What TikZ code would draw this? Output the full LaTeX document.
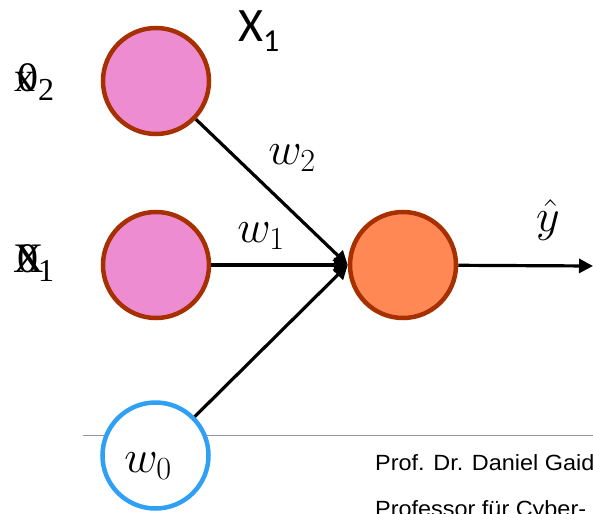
\RequirePackage{fix-cm}
\documentclass[tikz,border=0pt]{standalone}
\usepackage{fontspec}
\newfontfamily\arialfont{Liberation Sans}
\newfontfamily\califont{Carlito}
\newfontfamily\serifont{Liberation Serif}
\usetikzlibrary{arrows.meta}
\definecolor{pinkfill}{RGB}{238,140,210}
\definecolor{rimred}{RGB}{166,48,0}
\definecolor{orangefill}{RGB}{255,136,85}
\definecolor{biasblue}{RGB}{48,160,245}
\definecolor{rulegray}{RGB}{150,150,150}
\tikzset{
  neuron/.style={circle, draw=rimred, line width=4.5pt, minimum size=106pt, inner sep=0pt},
  biasnode/.style={circle, draw=biasblue, fill=white, line width=4.5pt, minimum size=106pt, inner sep=0pt},
  conn/.style={draw=black, line width=3.2pt, -{Triangle[length=14pt,width=14pt]}},
  wlabel/.style={inner sep=0pt, font=\fontsize{46}{50}\selectfont},
  inlabel/.style={inner sep=0pt, anchor=base west, font=\serifont\fontsize{42}{46}\selectfont},
  footer/.style={inner sep=0pt, anchor=base west, font=\arialfont\fontsize{22}{26}\selectfont, xscale=1.065, transform shape},
  rulestyle/.style={draw=rulegray, line width=1pt}
}
\begin{document}
\begin{tikzpicture}[x=1pt,y=-1pt]
\useasboundingbox (0,0) rectangle (593,513);
\clip (0,0) rectangle (593,513);
\coordinate (ruleL) at (83,435);
\coordinate (ruleR) at (593,435);
\draw[rulestyle] (ruleL) -- (ruleR);
\node[neuron, fill=pinkfill] (x2) at (156,81) {};
\node[neuron, fill=pinkfill] (x1) at (156,265) {};
\node[biasnode] (b) at (155.5,455.5) {};
\node[wlabel] (w0) at (148,466) {$w_0$};
\node[neuron, fill=orangefill] (out) at (403,265) {};
\coordinate (yend) at (593,266);
\draw[conn] (x2) -- (out.west);
\draw[conn] (x1) -- (out.west);
\draw[conn] (b) -- (out.west);
\draw[conn] (out) -- (yend);
\node[wlabel] (w2) at (292,158) {$w_2$};
\node[wlabel] (w1) at (261,236) {$w_1$};
\node[wlabel] (yhat) at (548,220) {$\hat{y}$};
\node[inner sep=0pt, anchor=base west, font=\califont\fontsize{48}{52}\selectfont] (X1) at (238,42) {X\raisebox{-10pt}{\fontsize{32}{36}\selectfont 1}};
\node[inlabel] (xa) at (14,92) {x};
\node[inlabel] (za) at (17,92) {0\raisebox{-9pt}{\fontsize{32}{36}\selectfont 2}};
\node[inlabel] (xb) at (13,272) {X};
\node[inlabel] (zb) at (17,272) {0\raisebox{-9pt}{\fontsize{32}{36}\selectfont 1}};
\node[footer] (f1) at (375,470) {Prof. Dr. Daniel Gaid};
\node[footer] (f2) at (375,516) {Professor für Cyber-};
\end{tikzpicture}
\end{document}
